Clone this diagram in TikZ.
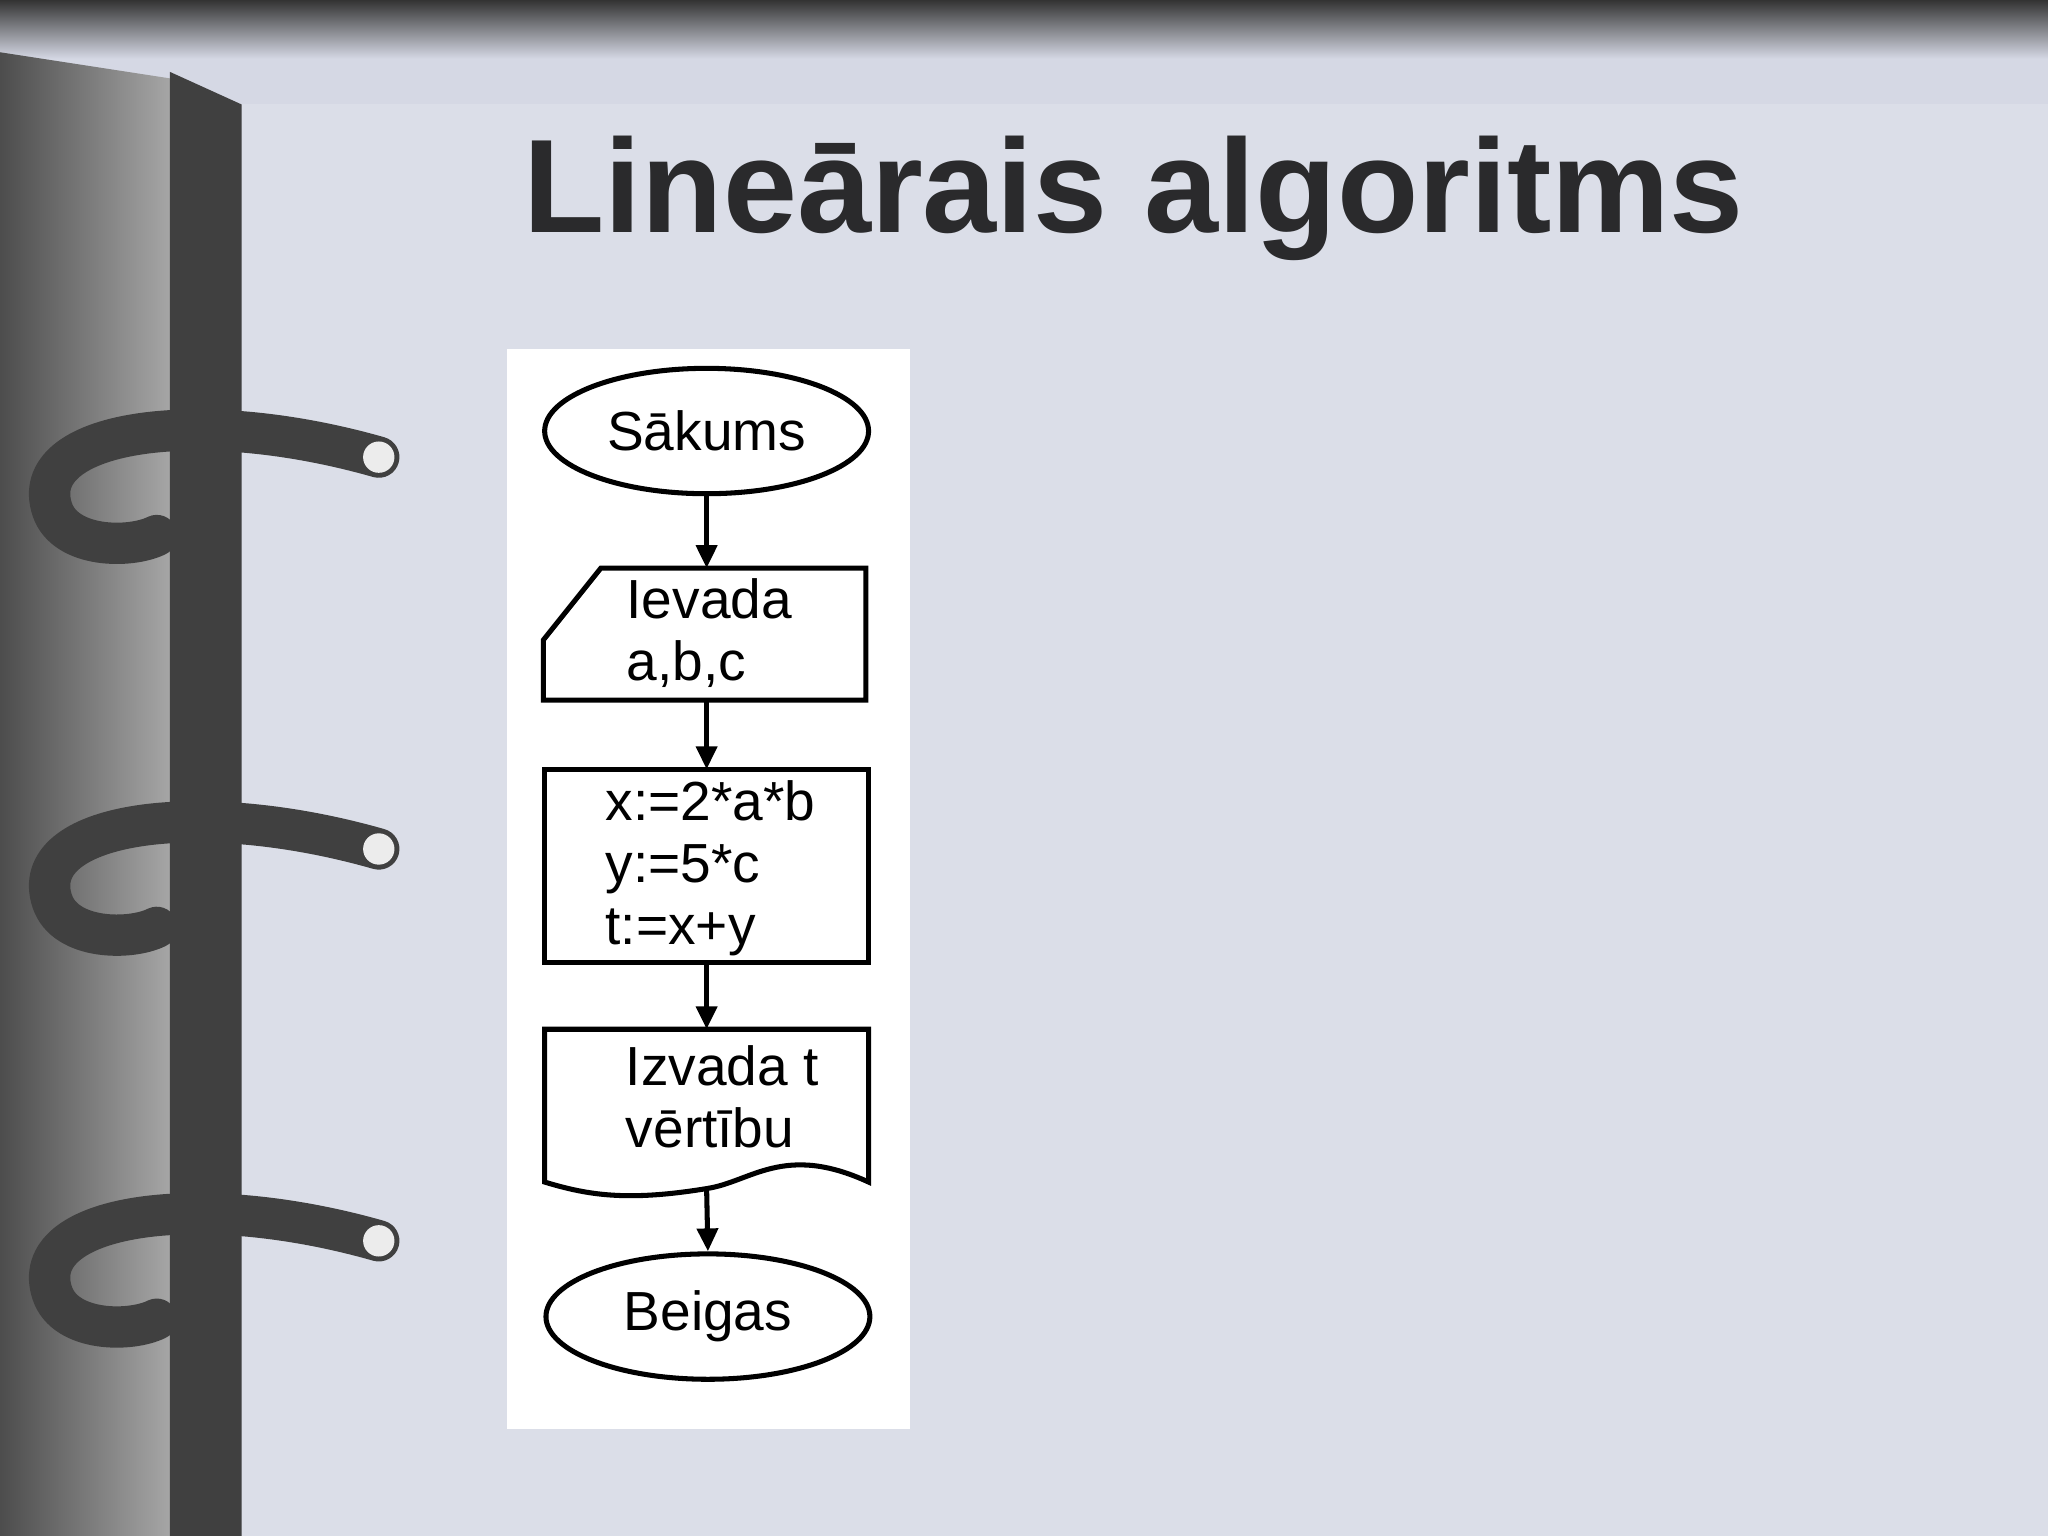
\documentclass[tikz,border=0pt]{standalone}
\usepackage{fontspec}
\setmainfont{Liberation Sans}
\usetikzlibrary{shapes.geometric,arrows.meta}
\definecolor{bg}{HTML}{D5D8E4}
\definecolor{titlec}{HTML}{2A2A2C}
\tikzset{
  fl/.style={draw=black, line width=2.2pt},
  term/.style={fl, ellipse, minimum width=248*0.02cm, minimum height=96*0.02cm, font=\fontsize{24}{27}\selectfont},
  arr/.style={line width=2.2pt, -{Triangle[length=10pt,width=9pt]}},
  txt/.style={font=\fontsize{24}{27}\selectfont, align=left, inner sep=0pt},
  ring/.style={line width=18pt, line cap=round, color=gray!50!black}
}
\begin{document}
\begin{tikzpicture}[x=0.02cm,y=-0.02cm]
\useasboundingbox (0,0) rectangle (1568,1176);
\fill[bg] (0,0) rectangle (1568,1176);
\shade[top color=black!80, bottom color=bg] (0,0) rectangle (1568,45);
\fill[bg!85!white] (185,80) rectangle (1568,1176);
\shade[left color=black!70, right color=gray!70] (0,40) -- (130,60) -- (130,1176) -- (0,1176) -- cycle;
\fill[black!75] (130,55) -- (185,80) -- (185,1176) -- (130,1176) -- cycle;
\foreach \yy in {350,650,950}{
  \draw[ring] (290,\yy) .. controls (150,\yy-40) and (20,\yy-20) .. (40,\yy+40) .. controls (50,\yy+70) and (100,\yy+70) .. (120,\yy+60);
  \fill[white!85!gray] (290,\yy) circle (12);
}
\node[font=\bfseries\fontsize{58}{64}\selectfont, text=titlec] (title) at (868,152) {Lineārais algoritms};
\fill[white] (388,267) rectangle (697,1094);
\node[term] (start) at (541,330) {Sākums};
\draw[fl] (460,435) -- (663,435) -- (663,536) -- (416,536) -- (416,490) -- cycle;
\coordinate (inT) at (541,435); \coordinate (inB) at (541,536);
\node[txt] (intext) at (543,485) {Ievada\\a,b,c};
\draw[fl] (417,589) rectangle (665,737);
\coordinate (prT) at (541,589); \coordinate (prB) at (541,737);
\node[txt] (prtext) at (544,665) {x:=2*a*b\\y:=5*c\\t:=x+y};
\draw[fl] (417,788) -- (665,788) -- (665,905) .. controls (600,875) and (575,905) .. (541,910) .. controls (480,920) and (450,915) .. (417,905) -- cycle;
\coordinate (doT) at (541,788); \coordinate (doB) at (541,910);
\node[txt] (dotext) at (553,840) {Izvada t\\vērtību};
\node[term] (end) at (542,1008) {Beigas};
\draw[arr] (start.south) -- (inT);
\draw[arr] (inB) -- (prT);
\draw[arr] (prB) -- (doT);
\draw[arr] (doB) -- (end.north);
\end{tikzpicture}
\end{document}
